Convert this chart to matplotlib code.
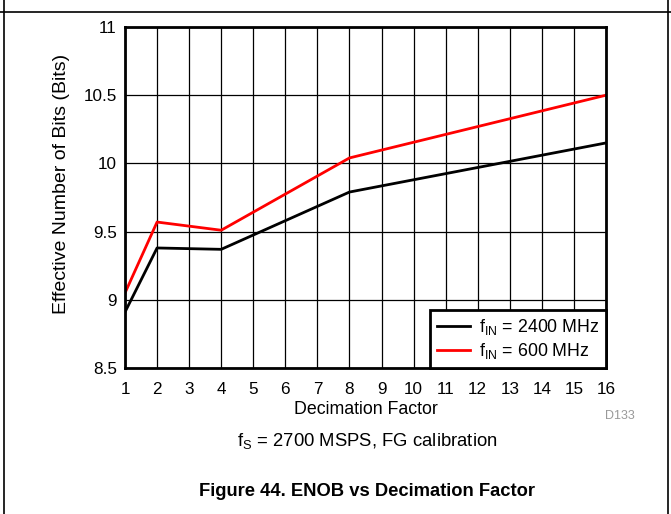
import matplotlib.pyplot as plt
from matplotlib.lines import Line2D

plt.rcParams["font.family"] = ["Liberation Sans", "DejaVu Sans"]

# data
decimation = [1, 2, 4, 8, 16]
enob_2400 = [8.91, 9.38, 9.37, 9.79, 10.15]
enob_600 = [9.05, 9.57, 9.51, 10.04, 10.50]
x_ticks = list(range(1, 17))
y_ticks = [8.5, 9, 9.5, 10, 10.5, 11]
y_ticklabels = ["8.5", "9", "9.5", "10", "10.5", "11"]

fig = plt.figure(figsize=(6.71, 5.14), dpi=100)
W, H = 671, 514
ax = fig.add_axes([125 / W, 1 - 368 / H, (606 - 125) / W, (368 - 27) / H])

ax.plot(decimation, enob_2400, color="black", lw=2, label=r"f$_{\mathregular{IN}}$ = 2400 MHz")
ax.plot(decimation, enob_600, color="#ff0000", lw=2, label=r"f$_{\mathregular{IN}}$ = 600 MHz")

ax.set_xlim(1, 16)
ax.set_ylim(8.5, 11)
ax.set_xticks(x_ticks)
ax.set_yticks(y_ticks)
ax.set_yticklabels(y_ticklabels)
ax.tick_params(length=0, labelsize=12.3)
ax.tick_params(axis="x", pad=10)
ax.tick_params(axis="y", pad=6)
ax.grid(True, color="black", lw=0.9)
for s in ax.spines.values():
    s.set_linewidth(2)
ax.set_xlabel("Decimation Factor", fontsize=12.8, va="center")
ax.xaxis.set_label_coords(0.5, -(409 - 368) / 341)
ax.set_ylabel("Effective Number of Bits (Bits)", fontsize=14, va="center")
ax.yaxis.set_label_coords((61 - 125) / 481, (368 - 184) / 341)

leg = ax.legend(loc="lower right", fontsize=12.8, frameon=True, fancybox=False,
                borderaxespad=0, handlelength=1.85, handletextpad=0.5,
                borderpad=0.4, labelspacing=0.2)
leg.get_frame().set_edgecolor("black")
leg.get_frame().set_linewidth(2)
leg.get_frame().set_alpha(1)

fig.text(620 / W, 1 - 416 / H, "D133", color="#999999", fontsize=9, ha="center", va="center")
fig.text(367 / W, 1 - 441 / H, r"f$_{\mathregular{S}}$ = 2700 MSPS, FG calibration",
         fontsize=13.3, ha="center", va="center")
fig.text(367 / W, 1 - 491 / H, "Figure 44. ENOB vs Decimation Factor",
         fontsize=13.2, fontweight="bold", ha="center", va="center")

# page frame lines
fig.add_artist(Line2D([4 / W, 4 / W], [0, 1], color="black", lw=1.2))
fig.add_artist(Line2D([668 / W, 668 / W], [0, 1], color="black", lw=1.2))
fig.add_artist(Line2D([0, 1], [1 - 12 / H, 1 - 12 / H], color="black", lw=1.2))

fig.savefig("out.png", dpi=100)
